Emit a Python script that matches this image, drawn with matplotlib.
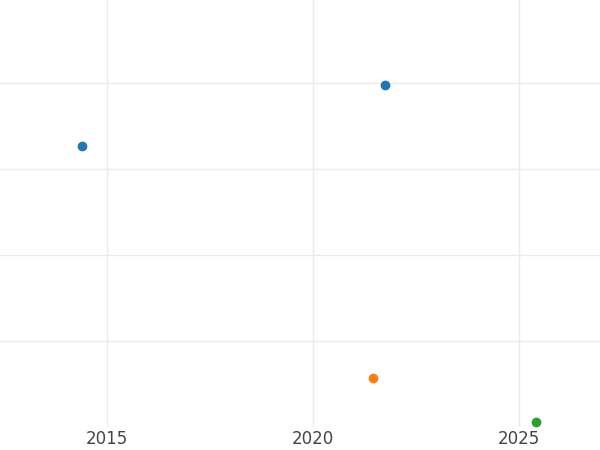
import matplotlib.pyplot as plt

years_blue = [2014.4, 2021.75]
vals_blue = [3.27, 3.98]
years_orange = [2021.45]
vals_orange = [0.57]
years_green = [2025.4]
vals_green = [0.06]

fig = plt.figure(figsize=(6, 4.5), dpi=100)
ax = fig.add_axes([0, 0.051, 1, 0.949])
ax.scatter(years_blue, vals_blue, color="#1f77b4", s=36, zorder=3)
ax.scatter(years_orange, vals_orange, color="#ff7f0e", s=36, zorder=3)
ax.scatter(years_green, vals_green, color="#2ca02c", s=36, zorder=3, clip_on=False)

ax.set_xlim(2012.40, 2026.96)
ax.set_ylim(0, 4.97)
ax.set_xticks([2015, 2020, 2025])
ax.set_yticks([1, 2, 3, 4])
ax.set_yticklabels([])
ax.grid(True, color="#ebebeb", linewidth=1)
ax.tick_params(length=0, labelsize=12, labelcolor="#444444", pad=2)
for s in ax.spines.values():
    s.set_visible(False)

fig.savefig("out.png", dpi=100)
